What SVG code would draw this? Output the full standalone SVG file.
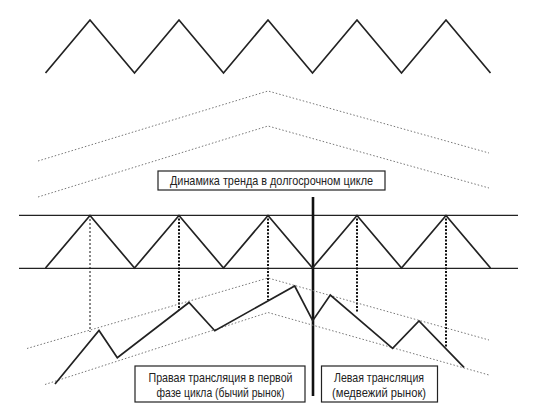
<svg xmlns="http://www.w3.org/2000/svg" width="552" height="414" viewBox="0 0 552 414">
<style>
.zz{fill:none;stroke:#222;stroke-width:1.7;stroke-linejoin:miter}
.hl{stroke:#222;stroke-width:1.3}
.ch{fill:none;stroke:#777;stroke-width:1;stroke-dasharray:1.5,2}
.vd{stroke:#111;stroke-width:1;stroke-dasharray:2,2}
.vb{stroke:#111;stroke-width:2;stroke-dasharray:2,1.5}
.box{fill:#fff;stroke:#222;stroke-width:1.2}
.t{font-family:"Liberation Sans",Arial,sans-serif;font-size:13px;fill:#222;text-anchor:middle}
</style>
<rect width="552" height="414" fill="#fff"/>
<g id="top-zigzag">
<polyline class="zz" points="45.5,73 90,20 134.5,73 179,20 223.5,73 268,20 312.5,73 357,20 401.5,73 446,20 490.5,73"/>
</g>
<g id="long-channel">
<polyline class="ch" points="38,161 268,91 489,153"/>
<polyline class="ch" points="38,197 268,126 489,188"/>
</g>
<g id="title">
<rect class="box" x="158" y="171" width="227" height="19"/>
<text class="t" x="271.5" y="185" textLength="203" lengthAdjust="spacingAndGlyphs">Динамика тренда в долгосрочном цикле</text>
</g>
<g id="connectors">
<line class="hl" x1="19" y1="215.3" x2="518" y2="215.3"/>
<line class="hl" x1="19" y1="268.3" x2="518" y2="268.3"/>
<line class="vd" x1="90" y1="215" x2="90" y2="332"/>
<line class="vb" x1="179" y1="215" x2="179" y2="310"/>
<line class="vb" x1="268" y1="215" x2="268" y2="300"/>
<line class="vb" x1="357" y1="215" x2="357" y2="313"/>
<line class="vb" x1="446" y1="215" x2="446" y2="347"/>
<line stroke="#111" stroke-width="2.6" x1="313" y1="197" x2="313" y2="396"/>
</g>
<g id="mid-zigzag">
<polyline class="zz" points="45.5,268 90,215.5 134.5,268 179,215.5 223.5,268 268,215.5 312.5,268 357,215.5 401.5,268 446,215.5 490.5,268"/>
</g>
<g id="price-channel">
<polyline class="ch" points="27,348.5 268,278 489,340"/>
<polyline class="ch" points="45,384.5 268,312.5 489,375"/>
</g>
<g id="price">
<polyline class="zz" stroke-width="2" points="55,384 99,330.5 117.3,357.7 189,302.5 214.8,330.7 294.7,286 312.7,320.7 330.3,295 392.6,348.3 419,321 464,367.3"/>
</g>
<g id="box-left">
<rect class="box" x="135" y="366" width="170" height="36"/>
<text class="t" x="220.5" y="381.5" textLength="144" lengthAdjust="spacingAndGlyphs">Правая трансляция в первой</text>
<text class="t" x="220.5" y="396.5" textLength="128" lengthAdjust="spacingAndGlyphs">фазе цикла (бычий рынок)</text>
</g>
<g id="box-right">
<rect class="box" x="321.5" y="366" width="116" height="36"/>
<text class="t" x="379" y="381.5" textLength="90" lengthAdjust="spacingAndGlyphs">Левая трансляция</text>
<text class="t" x="379" y="396.5" textLength="94" lengthAdjust="spacingAndGlyphs">(медвежий рынок)</text>
</g>
</svg>
